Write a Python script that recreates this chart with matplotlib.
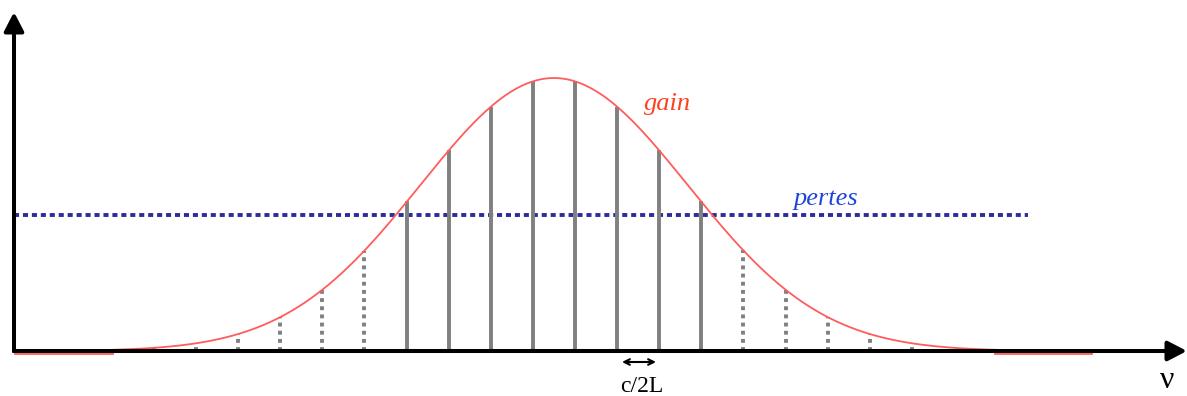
import numpy as np
import matplotlib
matplotlib.use('Agg')
import matplotlib.pyplot as plt

# schematic values (units ~ pixels of the original drawing)
gain_center = 554
gain_sigma = 134
gain_peak = 273
loss_level = 136
loss_end = 1028
mode_nu = [154, 196, 238, 280, 322, 364, 407, 449, 491, 533,
           575, 617, 659, 701, 743, 786, 828, 870, 912]
curve_start, curve_end = 113, 995
tail_left = [15, 113]
tail_right = [995, 1092]


def gain(nu):
    nu = np.asarray(nu, dtype=float)
    return gain_peak * np.exp(-0.5 * ((nu - gain_center) / gain_sigma) ** 2)


fig = plt.figure(figsize=(11.87, 3.96), dpi=100)
ax = fig.add_axes([0, 0, 1, 1])
ax.set_xlim(0, 1187)
ax.set_ylim(-45, 351)
ax.axis('off')

serif = ['Liberation Serif', 'DejaVu Serif']

# loss line
ax.plot([14, loss_end], [loss_level, loss_level], color='#2c2c9c', lw=2.8,
        linestyle=(0, (1.3, 1.0)), solid_capstyle='butt', zorder=2)

# longitudinal modes
for nu in mode_nu:
    g = float(gain(nu))
    if g > loss_level:
        ax.plot([nu, nu], [0, g], color='#808080', lw=2.8,
                solid_capstyle='butt', zorder=3)
    else:
        ax.plot([nu, nu], [0, g], color='#808080', lw=2.8,
                linestyle=(0, (1.0, 1.1)), zorder=3)

# gain curve
x = np.linspace(curve_start, curve_end, 600)
ax.plot(x, gain(x), color='#ff5c5c', lw=1.3, zorder=4)
ax.plot(tail_left, [-3, -3], color='#ff5c5c', lw=1.3, zorder=1)
ax.plot(tail_right, [-3, -3], color='#ff5c5c', lw=1.3, zorder=1)

# axes with arrows
arrow = dict(arrowstyle='-|>,head_length=0.58,head_width=0.3',
             mutation_scale=20, lw=2.9, color='black',
             shrinkA=0, shrinkB=0, capstyle='butt')
ax.annotate('', xy=(14, 339), xytext=(14, -1.5), arrowprops=arrow, zorder=5)
ax.annotate('', xy=(1187, 0), xytext=(12.5, 0), arrowprops=arrow, zorder=5)

# labels
ax.text(668, 241, 'gain', color='#ff4020', fontsize=19, style='italic',
        family=serif, ha='center', va='baseline')
ax.text(826, 146, 'pertes', color='#1f45d8', fontsize=19, style='italic',
        family=serif, ha='center', va='baseline')
ax.text(1167, -30, 'ν', fontsize=23, family=serif, ha='center', va='center')
ax.text(642, -36, 'c/2L', fontsize=17, family=serif, ha='center', va='center')
ax.annotate('', xy=(656, -11), xytext=(622, -11),
            arrowprops=dict(arrowstyle='<->,head_length=0.4,head_width=0.2',
                            mutation_scale=10, lw=1.5, color='black',
                            shrinkA=0, shrinkB=0))

fig.savefig('out.png', dpi=100)
